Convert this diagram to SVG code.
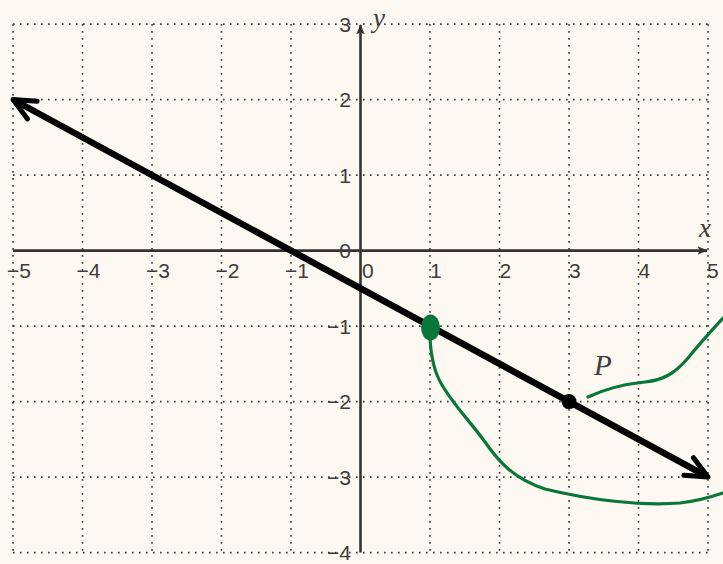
<svg xmlns="http://www.w3.org/2000/svg" width="723" height="564" viewBox="0 0 723 564">
<style>
.grid{fill:none;stroke:#3a3a3a;stroke-width:1.6;stroke-dasharray:1.6 5.4}
.axis{fill:none;stroke:#333;stroke-width:2.6}
.lbl{font-family:"Liberation Sans",Arial,sans-serif;font-size:21px;fill:#3c3c3c}
.var{font-family:"Liberation Serif","Times New Roman",serif;font-style:italic;fill:#3c3c3c}
.main{fill:none;stroke:#000;stroke-width:6.5}
.head{fill:none;stroke:#000;stroke-width:5;stroke-linecap:round;stroke-linejoin:round}
.ink{fill:none;stroke:#0a773a;stroke-width:3.2;stroke-linecap:round}
</style>
<defs>
<marker id="ax" viewBox="0 0 10 10" refX="9" refY="5" markerWidth="4" markerHeight="4" orient="auto" markerUnits="strokeWidth">
<path d="M0,1 L10,5 L0,9 L2,5 Z" fill="#333"/>
</marker>
</defs>
<rect width="723" height="564" fill="#fdf8f1"/>
<g id="grid">
<path class="grid" d="M13,24.1V552.6M82.5,24.1V552.6M152,24.1V552.6M221.5,24.1V552.6M291,24.1V552.6M430,24.1V552.6M499.5,24.1V552.6M569,24.1V552.6M638.5,24.1V552.6M708,24.1V552.6"/>
<path class="grid" d="M13,24.1H708M13,99.6H708M13,175.1H708M13,326.1H708M13,401.6H708M13,477.1H708M13,552.6H708"/>
</g>
<g id="axes">
<path class="axis" d="M13,250.6H707" marker-end="url(#ax)"/>
<path class="axis" d="M360.5,552.6V25" marker-end="url(#ax)"/>
</g>
<g id="x-labels" class="lbl">
<text x="7" y="278">−5</text>
<text x="76.5" y="278">−4</text>
<text x="146" y="278">−3</text>
<text x="215.5" y="278">−2</text>
<text x="285" y="278">−1</text>
<text x="362" y="278">0</text>
<text x="430" y="278">1</text>
<text x="499.5" y="278">2</text>
<text x="569" y="278">3</text>
<text x="638.5" y="278">4</text>
<text x="707" y="278">5</text>
</g>
<g id="y-labels" class="lbl" text-anchor="end">
<text x="351" y="31.6">3</text>
<text x="351" y="107.1">2</text>
<text x="351" y="182.6">1</text>
<text x="351" y="258.1">0</text>
<text x="351" y="333.6">−1</text>
<text x="351" y="409.1">−2</text>
<text x="351" y="484.6">−3</text>
<text x="351" y="560.1">−4</text>
</g>
<g id="axis-names" class="var">
<text x="699" y="237" font-size="27">x</text>
<text x="373" y="27" font-size="27">y</text>
</g>
<g id="line">
<path class="main" d="M17.4,102 L703.6,474.7"/>
<path class="head" d="M37.1,101.3 L13,99.6 L27.5,118.9"/>
<path class="head" d="M693.5,457.7 L708,477.1 L683.9,475.3"/>
</g>
<g id="point-P">
<circle cx="569" cy="401.6" r="7.5" fill="#000"/>
<text class="var" x="594" y="375" font-size="29">P</text>
</g>
<g id="ink">
<ellipse cx="430.5" cy="327.5" rx="9.5" ry="13" fill="#0a773a"/>
<path class="ink" d="M430,338 C431,358 434,372 442,385 C455,407 470,421 485,442 C499,462 514,479 545,489 C590,500 640,506 680,503 C700,501 714,496 723,493"/>
<path class="ink" d="M588,397 C605,389 625,384 645,382 C665,380 676,372 688,358 C700,343 712,330 723,318"/>
</g>
</svg>
